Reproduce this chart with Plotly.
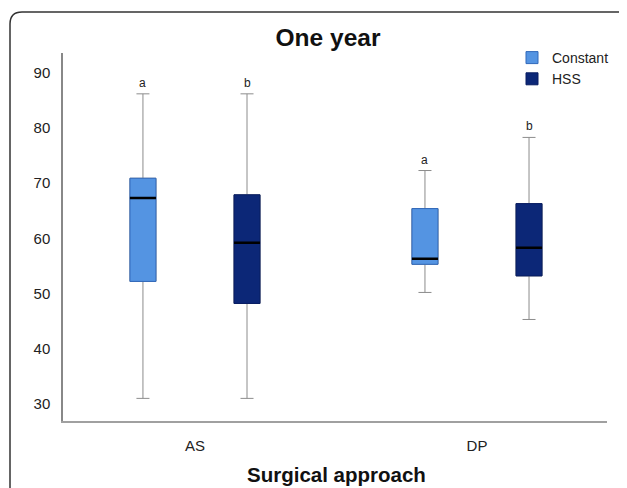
import plotly.graph_objects as go

# ---- data ----
categories = ["AS", "DP"]
series_names = ["Constant", "HSS"]
lower_fence = {"Constant": [31, 50.2], "HSS": [31, 45.3]}
q1 = {"Constant": [52.2, 55.3], "HSS": [48.2, 53.2]}
median = {"Constant": [67.3, 56.3], "HSS": [59.2, 58.3]}
q3 = {"Constant": [70.9, 65.4], "HSS": [67.9, 66.3]}
upper_fence = {"Constant": [86.2, 72.3], "HSS": [86.2, 78.3]}
letters = {"Constant": ["a", "a"], "HSS": ["b", "b"]}

fills = {"Constant": "#5494e2", "HSS": "#0c2777"}
outlines = {"Constant": "#3068ba", "HSS": "#081d62"}

FONT = "Arial, Liberation Sans, sans-serif"
W, H = 627, 488
OFF = 8  # page body margin: figure is drawn 8 px right/down in the window
# target positions (window pixels) -> figure pixels
PL, PT, PR, PB = 63, 53, 607, 421
ML, MT = PL - OFF, PT - OFF
PW, PH = PR - PL, PB - PT
MR, MB = W - ML - PW, H - MT - PH
BOXGAP, BOXGROUPGAP = 0.262, 0.75


def px(xw):
    return (xw - PL) / PW


def py(yw):
    return (PB - yw) / PH


fig = go.Figure()
for s in series_names:
    # whiskers (gray)
    fig.add_trace(go.Box(
        x=categories, q1=q1[s], median=median[s], q3=q3[s],
        lowerfence=lower_fence[s], upperfence=upper_fence[s],
        name=s, offsetgroup=s, showlegend=False,
        fillcolor="rgba(0,0,0,0)", line=dict(color="#8c8c8c", width=1),
        whiskerwidth=0.5, hoverinfo="skip"))
    # box body
    fig.add_trace(go.Box(
        x=categories, q1=q1[s], median=median[s], q3=q3[s],
        lowerfence=q1[s], upperfence=q3[s],
        name=s, offsetgroup=s, showlegend=True,
        fillcolor=fills[s], line=dict(color=outlines[s], width=1),
        whiskerwidth=0))
    # median line (black)
    fig.add_trace(go.Box(
        x=categories, q1=median[s], median=median[s], q3=median[s],
        lowerfence=median[s], upperfence=median[s],
        name=s, offsetgroup=s, showlegend=False,
        fillcolor="rgba(0,0,0,0)", line=dict(color="#000000", width=2.5),
        whiskerwidth=0, hoverinfo="skip"))

# significance letters above whiskers
offset = (1 - BOXGAP) / 4
annotations = []
for k, s in enumerate(series_names):
    sign = -1 if k == 0 else 1
    for i, c in enumerate(categories):
        annotations.append(dict(
            x=i + sign * offset, y=upper_fence[s][i], xref="x", yref="y",
            text=letters[s][i], showarrow=False, yanchor="bottom", yshift=2,
            font=dict(family=FONT, size=12, color="#222")))

annotations.append(dict(
    x=px(336), y=py(474), xref="paper", yref="paper",
    text="<b>Surgical approach</b>", showarrow=False, yanchor="middle",
    font=dict(family=FONT, size=20.5, color="#111")))

r = 12
frame = (f"M {px(10)},{py(505)} L {px(10)},{py(12 + r)} "
         f"Q {px(10)},{py(12)} {px(10 + r)},{py(12)} L {px(645)},{py(12)}")

fig.update_layout(
    width=W, height=H,
    margin=dict(l=ML, r=MR, t=MT, b=MB, autoexpand=False),
    paper_bgcolor="white", plot_bgcolor="white",
    boxmode="group", boxgap=BOXGAP, boxgroupgap=BOXGROUPGAP,
    title=dict(text="<b>One year</b>", x=(328 - OFF) / W,
               y=1 - (37 - OFF) / H,
               xref="container", yref="container",
               xanchor="center", yanchor="middle",
               font=dict(family=FONT, size=24.5, color="#111")),
    legend=dict(x=(512 - OFF) / W, y=1 - (42 - OFF) / H,
                xref="container", yref="container",
                xanchor="left", yanchor="top",
                font=dict(family=FONT, size=14, color="#222"),
                bgcolor="rgba(0,0,0,0)", itemwidth=30, tracegroupgap=0),
    annotations=annotations,
    shapes=[dict(type="path", path=frame, xref="paper", yref="paper",
                 line=dict(color="#333", width=1.5))],
    font=dict(family=FONT),
)
fig.update_xaxes(type="category", range=[-0.468, 1.461], showline=True,
                 linecolor="#a0a0a0", linewidth=1.5, ticks="", showgrid=False,
                 zeroline=False, ticklabelstandoff=10,
                 tickfont=dict(family=FONT, size=15, color="#222"))
fig.update_yaxes(range=[26.9, 93.6], tickvals=[30, 40, 50, 60, 70, 80, 90],
                 showline=True, linecolor="#888", linewidth=1.5, ticks="",
                 showgrid=False, zeroline=False, ticklabelstandoff=8,
                 tickfont=dict(family=FONT, size=15, color="#222"))

fig.write_html("out.html")
